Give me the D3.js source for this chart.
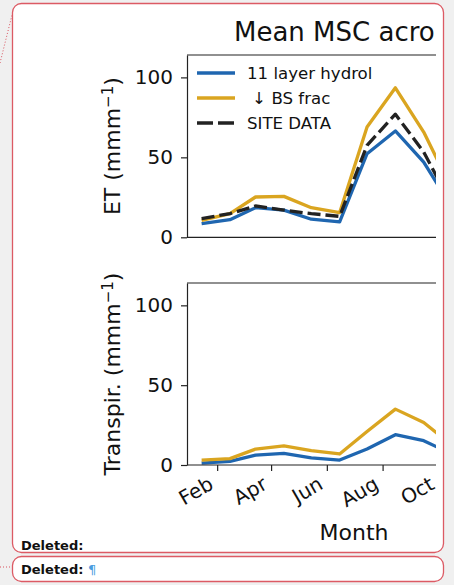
<!DOCTYPE html>
<html>
<head>
<meta charset="utf-8">
<script src="https://d3js.org/d3.v7.min.js"></script>
<style>
body { margin:0; background:#f0f0f0; overflow:hidden; }
svg text { font-family:"DejaVu Sans", sans-serif; fill:#111; }
</style>
</head>
<body>
<div id="mainer"></div>
<script>
let width = 454;
let height = 585;

// mid-month dates, Jan..Oct (the rest is cut off in the picture)
let months = ["2019-01-15","2019-02-15","2019-03-15","2019-04-15","2019-05-15",
              "2019-06-15","2019-07-15","2019-08-15","2019-09-15","2019-10-15"];
let tickMonths = ["2019-02-01","2019-04-01","2019-06-01","2019-08-01","2019-10-01"];
let yTicks = [0, 50, 100];

let etHydrol = [8.5, 11, 18.5, 17, 11.3, 9.6, 52.3, 66.5, 47, 19.4];
let etBsFrac = [10.6, 14.8, 25.2, 25.6, 18.5, 15.4, 69, 93.5, 65.8, 31];
let etSite   = [11.7, 14.8, 19.6, 17, 14.8, 13.1, 57.5, 77, 53.3, 21];
let trHydrol = [1.2, 2.3, 6.2, 7.3, 4.4, 3.1, 10, 19, 15.2, 7.2];
let trBsFrac = [3.1, 4, 10, 12, 9, 6.9, 21, 35, 26.6, 12.8];

let seriesNames = ["11 layer hydrol", "\u00a0\u2193\u00a0BS frac", "SITE DATA"];
let seriesColors = ["#1f66b0", "#daa520", "#222222"];

let parse = d3.timeParse("%Y-%m-%d");
let dates = months.map(parse);

let svg = d3.select("#mainer")
  .append("svg")
  .attr("width", width)
  .attr("height", height);

// comment balloons
svg.append("line")
  .attr("x1", 0).attr("y1", 63).attr("x2", 12).attr("y2", 15)
  .attr("stroke", "#d9535f").attr("stroke-width", 1).attr("stroke-dasharray", "1,2");
svg.append("line")
  .attr("x1", 0).attr("y1", 567).attr("x2", 12).attr("y2", 567)
  .attr("stroke", "#d9535f").attr("stroke-width", 1).attr("stroke-dasharray", "1,2");
svg.append("rect")
  .attr("x", 12.5).attr("y", 3.5).attr("width", 431).attr("height", 549).attr("rx", 9)
  .attr("fill", "white").attr("stroke", "#dc5a64").attr("stroke-width", 1.3);
svg.append("rect")
  .attr("x", 12.5).attr("y", 556.5).attr("width", 431).attr("height", 25).attr("rx", 9)
  .attr("fill", "white").attr("stroke", "#dc5a64").attr("stroke-width", 1.3);

svg.append("text").attr("x", 21).attr("y", 550)
  .style("font-size", "13px").style("font-weight", "bold").text("Deleted:");
let del2 = svg.append("text").attr("x", 21).attr("y", 574)
  .style("font-size", "13px").style("font-weight", "bold").text("Deleted:\u00a0");
del2.append("tspan").style("fill", "#4a9de0").style("font-weight", "normal").text("\u00b6");

// chart, clipped on the right like the screenshot
svg.append("clipPath").attr("id", "cut")
  .append("rect").attr("x", 0).attr("y", 0).attr("width", 436).attr("height", height);
let chart = svg.append("g").attr("clip-path", "url(#cut)");

let xScale = d3.scaleTime()
  .domain([new Date(2018, 11, 30), new Date(2019, 11, 30)])
  .range([187, 520.6]);
let yTop = d3.scaleLinear().domain([0, 114]).range([237.3, 55]);
let yBot = d3.scaleLinear().domain([0, 114]).range([465, 283]);

// only the visible part of the title
chart.append("text")
  .attr("x", 234).attr("y", 41)
  .style("font-size", "26px")
  .text("Mean MSC acro");

function panel(yScale, label, series) {
  let top = yScale.range()[1];
  let bottom = yScale.range()[0];

  let line = d3.line()
    .x(function(d, i) { return xScale(dates[i]) })
    .y(function(d) { return yScale(d) });

  series.forEach(function(s) {
    chart.append("path")
      .attr("d", line(s.values))
      .attr("fill", "none")
      .attr("stroke", s.color)
      .attr("stroke-width", 3.3)
      .attr("stroke-linejoin", "round")
      .attr("stroke-dasharray", s.dash ? "13,5" : null);
  });

  // spines
  chart.append("line")
    .attr("x1", 187).attr("x2", 520.6).attr("y1", top).attr("y2", top)
    .attr("stroke", "#222").attr("stroke-width", 1.2);
  chart.append("line")
    .attr("x1", 187).attr("x2", 520.6).attr("y1", bottom).attr("y2", bottom)
    .attr("stroke", "#222").attr("stroke-width", 1.2);

  let yAxis = d3.axisLeft(yScale).tickValues(yTicks).tickSize(6).tickSizeOuter(0).tickPadding(8);
  let g = chart.append("g").attr("transform", "translate(187,0)").call(yAxis);
  g.attr("font-size", null).attr("font-family", null);
  g.select(".domain").attr("stroke", "#222").attr("stroke-width", 1.2);
  g.selectAll(".tick line").attr("stroke", "#222").attr("stroke-width", 1.2);
  g.selectAll(".tick text").style("font-size", "20px").style("fill", "#111");

  let lab = chart.append("text")
    .attr("transform", "translate(120," + ((top + bottom) / 2) + ") rotate(-90)")
    .attr("text-anchor", "middle")
    .style("font-size", "22px")
    .text(label + " (mmm");
  lab.append("tspan").attr("dy", "-0.45em").style("font-size", "15px").text("\u22121");
  lab.append("tspan").attr("dy", "0.3em").text(")");
}

panel(yTop, "ET", [
  { values: etHydrol, color: seriesColors[0] },
  { values: etBsFrac, color: seriesColors[1] },
  { values: etSite, color: seriesColors[2], dash: true }
]);

panel(yBot, "Transpir.", [
  { values: trHydrol, color: seriesColors[0] },
  { values: trBsFrac, color: seriesColors[1] }
]);

// x axis on the lower panel
let xAxis = d3.axisBottom(xScale)
  .tickValues(tickMonths.map(parse))
  .tickFormat(d3.timeFormat("%b"))
  .tickSize(6)
  .tickSizeOuter(0);
let gx = chart.append("g").attr("transform", "translate(0,465)").call(xAxis);
gx.attr("font-size", null).attr("font-family", null);
gx.select(".domain").remove();
gx.selectAll(".tick line").attr("stroke", "#222").attr("stroke-width", 1.2);
gx.selectAll(".tick text")
  .attr("x", null).attr("y", null).attr("dy", null)
  .attr("text-anchor", "end")
  .attr("transform", "translate(-3,23) rotate(-30)")
  .style("font-size", "20px").style("fill", "#111");

chart.append("text")
  .attr("x", 354).attr("y", 540)
  .attr("text-anchor", "middle")
  .style("font-size", "22px")
  .text("Month");

// legend
let legend = chart.append("g");
seriesNames.forEach(function(name, i) {
  let y = 73 + i * 25;
  legend.append("line")
    .attr("x1", 197).attr("x2", 235).attr("y1", y).attr("y2", y)
    .attr("stroke", seriesColors[i]).attr("stroke-width", 3.3)
    .attr("stroke-dasharray", i == 2 ? "16,5" : null);
  legend.append("text")
    .attr("x", 247).attr("y", y + 6)
    .style("font-size", "16.6px")
    .text(name);
});
</script>
</body>
</html>
